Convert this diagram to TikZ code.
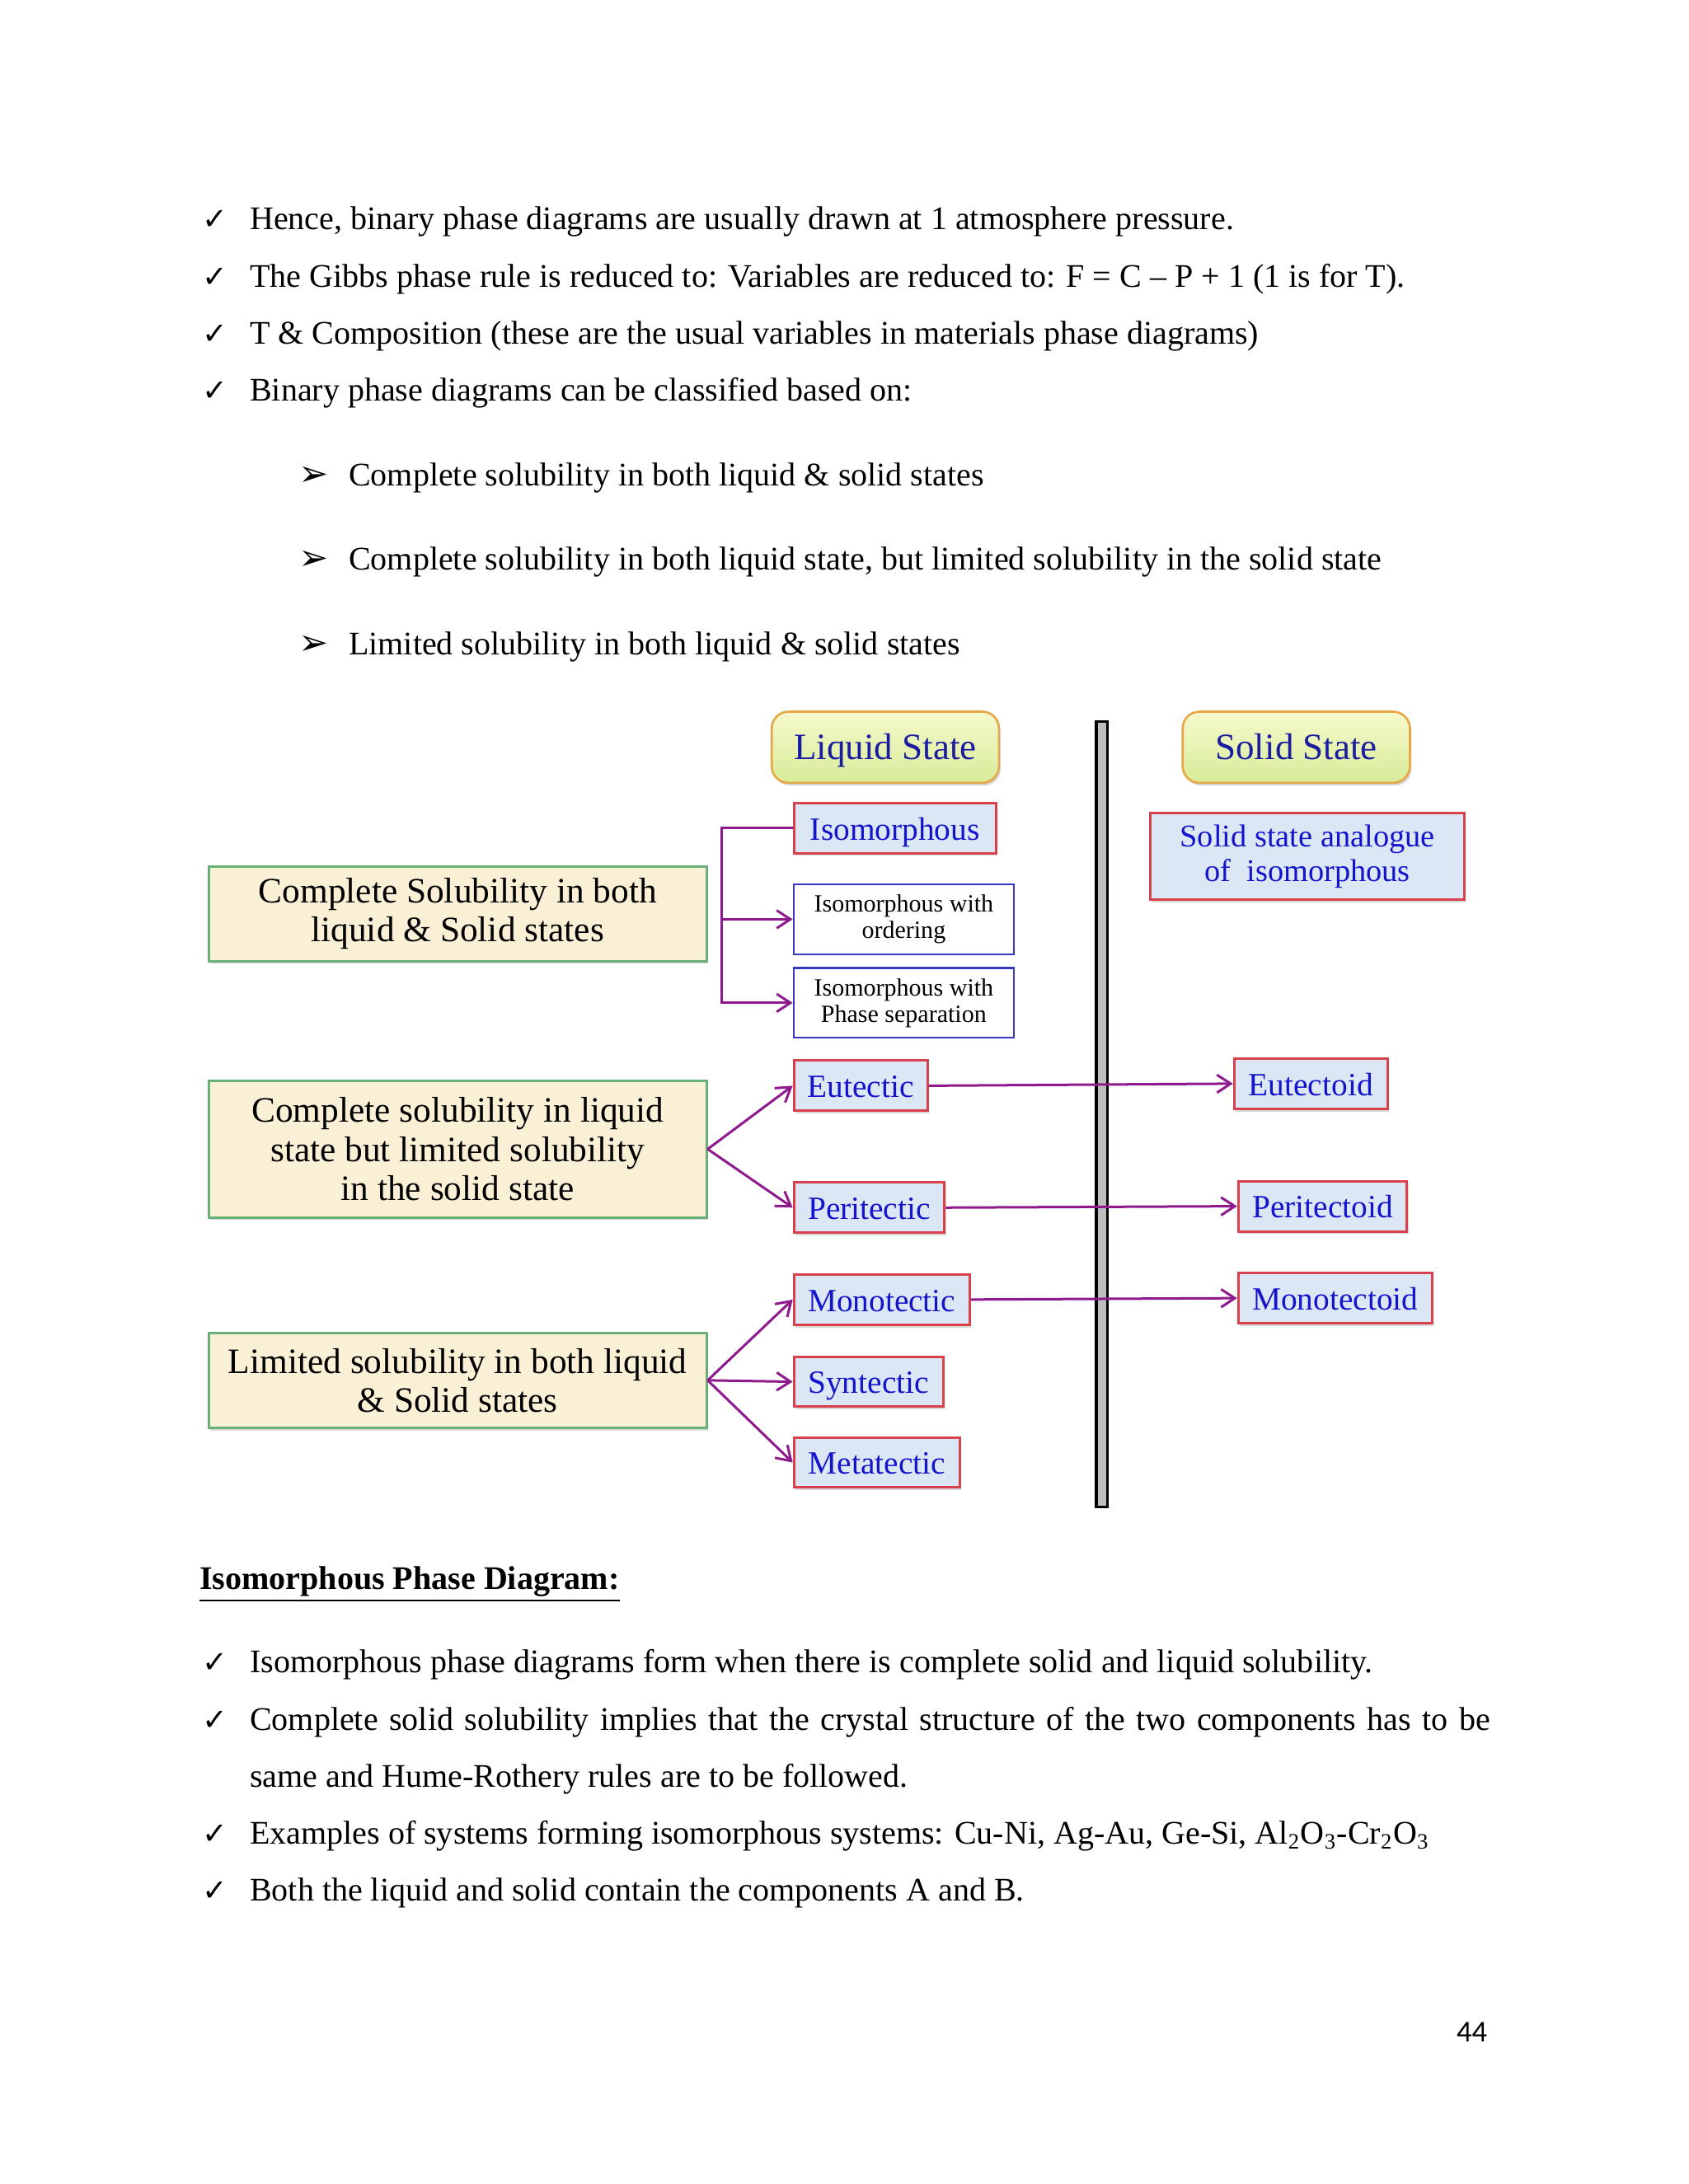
\documentclass[tikz,border=0pt]{standalone}
\usepackage{fontspec}
\setmainfont{Liberation Serif}
\newfontfamily\symfont{DejaVu Sans}
\newfontfamily\pagefont{Carlito}
\usetikzlibrary{arrows.meta,shadows}

\definecolor{linkpurple}{HTML}{8E1A8E}
\definecolor{deepblue}{HTML}{1414CC}
\definecolor{navyblue}{HTML}{1C1CA0}
\definecolor{redline}{HTML}{D8404C}
\definecolor{paleblue}{HTML}{DCE7F5}
\definecolor{greenline}{HTML}{68B078}
\definecolor{parchment}{HTML}{FAF0D6}
\definecolor{headorange}{HTML}{E6A848}
\definecolor{headtop}{HTML}{F6F9CC}
\definecolor{headbot}{HTML}{D8EC98}
\definecolor{frameblue}{HTML}{3838C4}
\definecolor{bargray}{HTML}{BEBEBE}

\newcommand{\tick}{{\symfont\char"2713}}
\newcommand{\pointer}{{\symfont\char"27A2}}

\begin{document}
\begin{tikzpicture}[x=0.017814cm, y=-0.017814cm,
  bodytext/.style={anchor=base west, inner sep=0pt, font=\fontsize{12}{14}\selectfont},
  tickmk/.style={anchor=base west, inner sep=0pt, font=\fontsize{11}{13}\selectfont},
  pointmk/.style={anchor=base west, inner sep=0pt, font=\fontsize{13}{15}\selectfont},
  headbox/.style={draw=headorange, line width=0.8pt, rounded corners=6pt,
    top color=headtop, bottom color=headbot, text=navyblue,
    font=\fontsize{13.5}{16}\selectfont, minimum width=2.904cm, minimum height=0.909cm,
    text height=10pt, text depth=1.4pt,
    drop shadow={shadow xshift=0.6pt, shadow yshift=-1pt, opacity=0.3}},
  groupbox/.style={draw=greenline, line width=0.9pt, fill=parchment, align=center,
    font=\fontsize{13}{14.2}\selectfont, minimum width=6.36cm, inner sep=0pt,
    drop shadow={shadow xshift=0.6pt, shadow yshift=-1pt, opacity=0.3}},
  kindbox/.style={draw=redline, line width=0.9pt, fill=paleblue, text=deepblue,
    font=\fontsize{11.8}{13}\selectfont, minimum height=0.641cm, inner sep=0pt,
    text height=9.6pt, text depth=1pt,
    drop shadow={shadow xshift=0.6pt, shadow yshift=-1pt, opacity=0.3}},
  subbox/.style={draw=frameblue, line width=0.7pt, fill=white, align=center,
    font=\fontsize{9}{9.6}\selectfont, minimum width=2.815cm, minimum height=0.891cm,
    inner sep=0pt},
  link/.style={draw=linkpurple, line width=0.9pt, -{Straight Barb[length=5pt,width=6.5pt]}},
]
\useasboundingbox[fill=white] (0,0) rectangle (1212,1568);

% page text above the chart
\node[tickmk] (tk1) at (145,165) {\tick};
\node[bodytext] (ln1) at (179,165) {Hence, binary phase diagrams are usually drawn at 1 atmosphere pressure.};
\node[tickmk] (tk2) at (145,206) {\tick};
\node[bodytext] (ln2) at (179,206) {The Gibbs phase rule is reduced to: Variables are reduced to: F = C – P + 1 (1 is for T).};
\node[tickmk] (tk3) at (145,247) {\tick};
\node[bodytext] (ln3) at (179,247) {T \& Composition (these are the usual variables in materials phase diagrams)};
\node[tickmk] (tk4) at (145,288) {\tick};
\node[bodytext] (ln4) at (179,288) {Binary phase diagrams can be classified based on:};
\node[pointmk] (pt1) at (214,349) {\pointer};
\node[bodytext] (cl1) at (250,349) {Complete solubility in both liquid \& solid states};
\node[pointmk] (pt2) at (214,409) {\pointer};
\node[bodytext] (cl2) at (250,409) {Complete solubility in both liquid state, but limited solubility in the solid state};
\node[pointmk] (pt3) at (214,470) {\pointer};
\node[bodytext] (cl3) at (250,470) {Limited solubility in both liquid \& solid states};

% headers and divider
\node[headbox] (liquid) at (635.5,536.5) {Liquid State};
\node[headbox] (solid) at (930.5,536.5) {Solid State};
\draw[fill=bargray, line width=1.1pt] (787,518) rectangle (795,1082);

% classes
\node[groupbox, minimum height=1.211cm] (both) at (328.5,656) {Complete Solubility in both\\liquid \& Solid states};
\node[groupbox, minimum height=1.746cm] (liqonly) at (328.5,825) {Complete solubility in liquid\\state but limited solubility\\in the solid state};
\node[groupbox, minimum height=1.211cm] (limited) at (328.5,991) {Limited solubility in both liquid\\\& Solid states};

% liquid state reactions
\node[kindbox, anchor=west, minimum width=2.583cm] (iso) at (569,594.5) {Isomorphous};
\node[subbox, anchor=west] (isoord) at (569,660) {Isomorphous with\\ordering};
\node[subbox, anchor=west] (isosep) at (569,720) {Isomorphous with\\Phase separation};
\node[kindbox, anchor=west, minimum width=1.710cm] (eut) at (569,779.5) {Eutectic};
\node[kindbox, anchor=west, minimum width=1.924cm] (per) at (569,867) {Peritectic};
\node[kindbox, anchor=west, minimum width=2.245cm] (mono) at (569,933) {Monotectic};
\node[kindbox, anchor=west, minimum width=1.906cm] (synt) at (569,992) {Syntectic};
\node[kindbox, anchor=west, minimum width=2.120cm] (meta) at (569,1050) {Metatectic};

% solid state reactions
\node[kindbox, align=center, minimum width=4.008cm, minimum height=1.104cm,
  text height=, text depth=, font=\fontsize{11.5}{12.7}\selectfont] (analog) at (938.5,615) {Solid state analogue\\of\ \ isomorphous};
\node[kindbox, anchor=west, minimum width=1.960cm] (eutd) at (885,778) {Eutectoid};
\node[kindbox, anchor=west, minimum width=2.155cm] (perd) at (888,866) {Peritectoid};
\node[kindbox, anchor=west, minimum width=2.476cm] (monod) at (888,932) {Monotectoid};

% links
\coordinate (fork) at (518,594.5);
\draw[link] (iso.west) -- (fork) |- (isosep.west);
\draw[link] (fork |- isoord.west) -- (isoord.west);
\draw[link] (liqonly.east) -- (eut.west);
\draw[link] (liqonly.east) -- (per.west);
\draw[link] (limited.east) -- (mono.west);
\draw[link] (limited.east) -- (synt.west);
\draw[link] (limited.east) -- (meta.west);
\draw[link] (eut.east) -- (eutd.west);
\draw[link] (per.east) -- (perd.west);
\draw[link] (mono.east) -- (monod.west);

% page text below the chart
\node[bodytext, font=\bfseries\fontsize{12}{14}\selectfont] (head) at (143,1141) {\underline{Isomorphous Phase Diagram:}};
\node[tickmk] (tk5) at (145,1201) {\tick};
\node[bodytext] (ln5) at (179,1201) {Isomorphous phase diagrams form when there is complete solid and liquid solubility.};
\node[tickmk] (tk6) at (145,1242) {\tick};
\node[bodytext] (ln6) at (179,1242) {\makebox[15.855cm][s]{Complete solid solubility implies that the crystal structure of the two components has to be}};
\node[bodytext] (ln7) at (179,1283) {same and Hume-Rothery rules are to be followed.};
\node[tickmk] (tk7) at (145,1324) {\tick};
\node[bodytext] (ln8) at (179,1324) {Examples of systems forming isomorphous systems: Cu-Ni, Ag-Au, Ge-Si, Al\textsubscript{2}O\textsubscript{3}-Cr\textsubscript{2}O\textsubscript{3}};
\node[tickmk] (tk8) at (145,1365) {\tick};
\node[bodytext] (ln9) at (179,1365) {Both the liquid and solid contain the components A and B.};
\node[anchor=base east, inner sep=0pt, font=\pagefont\fontsize{11}{13}\selectfont] (pageno) at (1068,1466) {44};
\end{tikzpicture}
\end{document}
